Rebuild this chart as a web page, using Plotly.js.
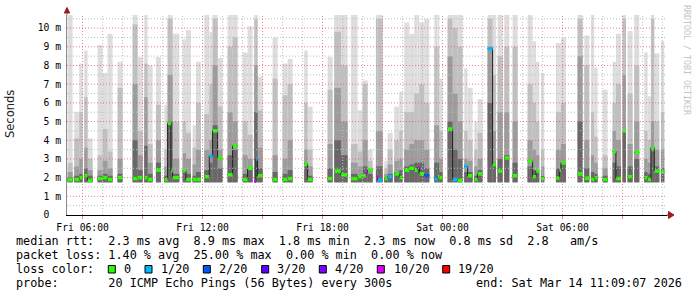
<!DOCTYPE html>
<html><head><meta charset="utf-8">
<script src="https://cdn.plot.ly/plotly-3.0.1.min.js"></script>
<style>html,body{margin:0;padding:0;background:#fff}#chart{width:697px;height:297px}</style>
</head><body><div id="chart"></div><script>
// ---- data ----
const colStart = [
 'Fri 05:15','Fri 05:35','Fri 05:50','Fri 06:05','Fri 06:15','Fri 06:45','Fri 07:00','Fri 07:15','Fri 07:45','Fri 08:30',
 'Fri 08:45','Fri 09:05','Fri 09:15','Fri 09:40','Fri 10:05','Fri 10:15','Fri 10:25','Fri 10:30','Fri 11:00','Fri 11:10',
 'Fri 11:30','Fri 11:40','Fri 12:05','Fri 12:20','Fri 12:30','Fri 12:45','Fri 13:15','Fri 13:30','Fri 14:00','Fri 14:15',
 'Fri 14:35','Fri 14:40','Fri 14:45','Fri 15:30','Fri 16:00','Fri 16:15','Fri 17:05','Fri 17:15','Fri 18:15','Fri 18:35',
 'Fri 18:55','Fri 19:25','Fri 19:45','Fri 20:00','Fri 20:10','Fri 20:15','Fri 20:40','Fri 20:45','Fri 21:05','Fri 21:15',
 'Fri 21:35','Fri 21:50','Fri 22:05','Fri 22:20','Fri 22:35','Fri 22:45','Fri 22:50','Fri 23:05','Fri 23:35','Fri 23:45',
 'Fri 23:50','Sat 00:15','Sat 00:30','Sat 00:45','Sat 01:05','Sat 01:15','Sat 01:35','Sat 01:45','Sat 02:15','Sat 02:30',
 'Sat 02:45','Sat 03:05','Sat 03:30','Sat 04:15','Sat 04:30','Sat 04:40','Sat 04:55','Sat 05:40','Sat 05:50','Sat 05:55',
 'Sat 06:45','Sat 07:05','Sat 07:25','Sat 07:35','Sat 08:00','Sat 08:30','Sat 08:40','Sat 09:00','Sat 09:15','Sat 09:35',
 'Sat 10:05','Sat 10:15','Sat 10:25','Sat 10:35','Sat 10:55'];
const colSamples = [
 3,3,2,2,3,3,3,3,3,3,
 3,2,3,3,2,2,1,4,2,3,
 2,3,3,2,3,3,3,3,3,3,
 1,1,3,3,3,3,2,3,3,4,
 4,4,3,2,1,3,1,3,2,3,
 3,2,3,3,2,1,3,3,2,1,
 2,3,3,3,2,3,2,3,3,2,
 3,3,3,3,2,2,2,2,1,3,
 3,3,2,2,3,2,3,2,3,3,
 2,2,2,3,2];
const rttMax = [
 11,5.5,8.1,8.8,4.1,9.1,7.6,9.7,8.2,11,
 8.45,11,8.0,8.45,5.9,11,11,9.7,9.4,9.9,
 4.8,8.2,11,9.8,11,8.4,11,11,8.7,10.1,
 11,11,7.4,9.5,8.1,8.35,8.8,5.8,8.45,11,
 11,11,5.6,7.2,7.2,3.5,11,11,2.9,4.4,
 5.8,6.6,10.3,9.7,11,11,10.3,10.5,11,11,
 7.3,11,11,11,7.85,6.8,5.0,6.2,11,11,
 11,11,11,11,9.3,8.2,7.6,9.2,9.2,9.5,
 11,9.6,11,7.9,6.7,8.2,9.7,11,9.85,11,
 8.7,6.35,11,8.65,9.3];
const rttUpper = [
 2.8,4.1,5.5,6.3,3.0,3.2,4.6,3.4,6.8,10.2,
 4.5,8.1,3.8,5.9,3.5,10.5,10.5,5.0,5.0,4.4,
 3.6,6.0,5.4,7.0,10.5,5.8,9.0,9.5,5.0,4.3,
 10.5,10.5,5.6,7.3,6.4,7.0,6.0,3.5,6.7,9.8,
 8.0,3.8,3.4,7.0,7.0,2.9,10.5,10.5,2.5,3.5,
 4.0,4.5,5.5,5.5,6.5,6.5,7.0,6.0,9.0,9.0,
 4.5,10.5,10.0,9.0,4.5,4.0,3.5,4.4,10.5,7.5,
 8.5,9.0,9.0,7.0,6.0,5.0,3.5,5.5,5.5,6.0,
 10.5,8.0,5.5,4.2,3.2,6.0,7.0,10.5,6.5,8.0,
 4.5,4.0,10.5,5.0,5.5];
const rttMid = [
 2.3,2.6,3.0,3.6,2.4,2.4,2.9,2.5,3.0,7.0,
 3.2,6.3,2.8,4.0,2.6,7.5,7.5,3.0,3.3,3.0,
 2.7,3.5,3.5,4.0,8.0,3.5,5.5,5.0,3.2,3.0,
 8.0,8.0,3.6,3.2,3.0,4.0,3.5,2.6,3.8,6.8,
 5.0,2.8,2.6,4.0,4.0,2.5,4.5,4.5,2.2,2.7,
 2.9,3.0,3.5,3.8,4.0,4.0,4.0,3.5,4.8,4.8,
 3.0,8.5,6.5,5.0,3.0,2.9,2.6,3.0,9.0,4.5,
 5.5,5.5,5.0,4.0,3.5,3.2,2.6,3.5,3.5,3.8,
 8.5,4.0,3.2,2.8,2.5,4.5,4.0,7.5,3.8,5.0,
 3.0,2.8,5.0,3.5,3.5];
const rttLower = [
 2.0,2.1,2.2,2.5,2.1,2.1,2.2,2.1,2.2,4.0,
 2.4,3.7,2.2,2.8,2.1,5.0,5.0,2.2,2.4,2.2,
 2.1,2.3,2.4,2.8,4.8,2.5,3.2,3.5,2.2,2.4,
 5.5,5.5,2.5,2.3,2.2,2.4,2.6,2.1,2.5,4.0,
 3.2,2.2,2.1,2.6,2.6,2.2,2.6,2.6,2.0,2.2,
 2.3,2.4,2.6,2.7,2.8,2.8,2.8,2.5,2.8,2.8,
 2.3,5.0,3.5,3.0,2.3,2.3,2.1,2.4,6.0,2.8,
 3.0,3.2,2.8,2.6,2.4,2.3,2.1,2.5,2.5,2.7,
 5.0,2.5,2.3,2.2,2.1,2.8,2.6,4.5,2.6,3.0,
 2.3,2.2,3.4,2.6,2.5];
const rttMedian = [
 1.88,1.9,2.0,2.1,1.85,1.95,2.0,1.9,2.0,1.95,
 2.0,2.0,1.9,2.4,1.9,4.9,2.35,2.0,2.37,1.9,
 1.9,1.9,2.05,3.15,4.5,3.05,2.15,3.7,1.9,2.5,
 1.8,3.0,2.1,1.9,1.9,1.95,2.75,1.9,1.95,2.35,
 2.15,1.95,2.05,2.1,2.25,2.4,2.05,1.87,1.95,2.05,
 2.2,2.0,2.4,2.5,2.4,2.55,2.2,2.1,1.93,2.05,
 2.0,4.6,1.9,1.85,2.6,2.1,1.9,2.2,8.9,2.7,
 2.35,3.05,2.1,2.9,2.05,2.35,1.95,1.97,2.4,2.8,
 2.2,1.97,1.9,2.0,1.9,3.4,1.95,4.5,2.05,3.35,
 2.0,1.9,3.6,2.35,2.3];
const lossIndex = [
 0,0,0,0,0,0,0,0,0,0,
 0,0,0,0,0,0,0,0,0,0,
 0,0,0,1,0,0,0,0,0,0,
 5,1,0,0,0,0,0,0,0,0,
 0,0,0,0,5,0,5,1,0,1,
 0,0,0,0,0,5,0,2,1,0,
 0,0,1,0,1,0,0,0,1,0,
 0,0,0,0,0,0,0,0,0,0,
 0,0,0,0,0,0,0,0,0,0,
 0,0,0,0,0];
const rttFloor = 1.75;
const lossLabels = ['0','1/20','2/20','3/20','4/20','10/20','19/20'];
const lossColors = ['#26ff00','#00b8ff','#0059ff','#5e00ff','#7e00ff','#dd00ff','#ff0000'];
const xTickVals = ['2026-03-13 06:00','2026-03-13 09:00','2026-03-13 12:00','2026-03-13 15:00','2026-03-13 18:00',
 '2026-03-13 21:00','2026-03-14 00:00','2026-03-14 03:00','2026-03-14 06:00','2026-03-14 09:00'];
const xTickText = ['Fri 06:00','','Fri 12:00','','Fri 18:00','','Sat 00:00','','Sat 06:00',''];
const yTickVals = [0,1,2,3,4,5,6,7,8,9,10];
const yTickText = ['0\u00a0\u00a0','1 m','2 m','3 m','4 m','5 m','6 m','7 m','8 m','9 m','10 m'];
const statLine1 = 'median rtt:  2.3 ms avg  8.9 ms max  1.8 ms min  2.3 ms now  0.8 ms sd  2.8   am/s';
const statLine2 = 'packet loss: 1.40 % avg  25.00 % max  0.00 % min  0.00 % now';
const statLine3 = 'loss color:';
const statLine4 = 'probe:       20 ICMP Echo Pings (56 Bytes) every 300s';
const endText = 'end: Sat Mar 14 11:09:07 2026';
const yTitle = 'Seconds';
const watermark = 'RRDTOOL / TOBI OETIKER';

// ---- build ----
const dayDate = {Fri:[2026,2,13], Sat:[2026,2,14]};
const STEP = 300000, HOUR = 3600000;
function toMs(s){const p=s.split(' ');const d=dayDate[p[0]];const hm=p[1].split(':').map(Number);return Date.UTC(d[0],d[1],d[2],hm[0],hm[1]);}
const startMs = colStart.map(toMs);
const widthMs = colSamples.map(n=>n*STEP);
const centerMs = startMs.map((s,i)=>s+widthMs[i]/2);
const endMs = startMs.map((s,i)=>s+widthMs[i]);

function band(tops,color){
  return {type:'bar', x:centerMs, width:widthMs, base:tops.map(()=>rttFloor), y:tops.map(t=>t-rttFloor),
    marker:{color:color, line:{width:0}}, hoverinfo:'skip'};
}
const traces = [band(rttMax,'#dddddd'), band(rttUpper,'#c0c0c0'), band(rttMid,'#9c9c9c'), band(rttLower,'#686868')];

const mx=[], my=[];
for(let i=0;i<startMs.length;i++){
  mx.push(startMs[i], endMs[i]); my.push(rttMedian[i], rttMedian[i]);
  if(!(i+1<startMs.length && startMs[i+1]===endMs[i])){mx.push(null); my.push(null);}
}
traces.push({type:'scatter', mode:'lines', x:mx, y:my, line:{color:'#202020', width:1}, hoverinfo:'skip', connectgaps:false});

lossColors.forEach((c,k)=>{
  const x=[], y=[];
  for(let i=0;i<startMs.length;i++){ if(lossIndex[i]===k){ x.push(startMs[i]+STEP*0.15, endMs[i], null); y.push(rttMedian[i], rttMedian[i], null);} }
  if(x.length) traces.push({type:'scatter', mode:'lines', x:x, y:y, line:{color:c, width:3.5}, hoverinfo:'skip'});
});

const L=67, T=15, W=600, H=200;
const px = v => (v-L)/W;
const py = v => (T+H-v)/H;
const nb = s => s.replace(/ /g,'\u00a0');
const mono = 'DejaVu Sans Mono';
const txtFont = {family:mono, size:11.8, color:'#000'};
const ann = [];
function addText(text,x,y,anchor){ann.push({xref:'paper',yref:'paper',x:px(x),y:py(y),xanchor:anchor||'left',yanchor:'middle',text:nb(text),showarrow:false,font:txtFont,borderpad:0});}
addText(statLine1,15,241);
addText(statLine2,15,255);
addText(statLine3,15,269);
addText(statLine4,15,283);
addText(endText,683,283,'right');
const boxX=[108.3,145,203.3,261.7,319.3,377.3,442.7];
const labX=[123,160,218,276,334,392.5,456.5];
const shapes=[];
lossLabels.forEach((lab,k)=>{
  addText(lab,labX[k],269);
  shapes.push({type:'rect',xref:'paper',yref:'paper',x0:px(boxX[k]),x1:px(boxX[k]+7),y0:py(273),y1:py(265.5),fillcolor:lossColors[k],line:{color:'#000',width:1}});
});
ann.push({xref:'paper',yref:'paper',x:px(10),y:py(114),text:yTitle,textangle:-90,showarrow:false,font:{family:'DejaVu Sans',size:11.5,color:'#222'},xanchor:'center',yanchor:'middle'});
ann.push({xref:'paper',yref:'paper',x:px(687),y:py(60),text:nb(watermark),textangle:90,showarrow:false,font:{family:mono,size:8.3,color:'#c4c4c4'},xanchor:'center',yanchor:'middle'});

// grid drawn over the smoke, as rrdtool does
const xMin = toMs('Fri 05:13'), xMax = xMin + 30*HOUR;
const majorColor = 'rgba(225,90,90,0.75)', minorColor = '#bdbdbd';
for(let t=toMs('Fri 06:00'); t<xMax; t+=HOUR){
  const major = ((t - toMs('Fri 06:00'))/HOUR) % 3 === 0;
  shapes.push({type:'line', layer:'above', xref:'x', yref:'paper', x0:t, x1:t, y0:0, y1:1, line:{color:major?majorColor:minorColor, width:1, dash:'1px,2px'}});
}
for(let v=0.5; v<10.7; v+=0.5){
  const major = Math.abs(v-Math.round(v))<1e-9;
  shapes.push({type:'line', layer:'above', xref:'paper', yref:'y', x0:0, x1:1, y0:v, y1:v, line:{color:major?majorColor:minorColor, width:1, dash:'1px,2px'}});
}

// axis extensions and arrows
shapes.push({type:'line',xref:'paper',yref:'paper',x0:0,x1:0,y0:1,y1:py(9),line:{color:'#8a8a8a',width:1}});
shapes.push({type:'line',xref:'paper',yref:'paper',x0:1,x1:px(671),y0:0,y1:0,line:{color:'#000',width:1}});
shapes.push({type:'path',xref:'paper',yref:'paper',path:`M ${px(64.3)} ${py(13)} L ${px(67)} ${py(7.5)} L ${px(69.7)} ${py(13)} Z`,fillcolor:'#a01c1c',line:{color:'#a01c1c',width:1}});
shapes.push({type:'path',xref:'paper',yref:'paper',path:`M ${px(668.5)} ${py(211.5)} L ${px(674)} ${py(215)} L ${px(668.5)} ${py(218.5)} Z`,fillcolor:'#a01c1c',line:{color:'#a01c1c',width:1}});

const tickFont = {family:mono, size:9.7, color:'#000'};
const layout = {
  width:697, height:297, margin:{l:L, r:697-L-W, t:T, b:297-T-H, pad:0},
  paper_bgcolor:'#fff', plot_bgcolor:'#fff', showlegend:false, barmode:'overlay', hovermode:false,
  xaxis:{type:'date', range:['2026-03-13 05:13:12','2026-03-14 11:13:12'], tickmode:'array', tickvals:xTickVals, ticktext:xTickText,
    showgrid:false, showline:true, linecolor:'#000', linewidth:1, ticks:'outside', ticklen:3, tickcolor:'rgba(225,90,90,0.75)',
    tickfont:tickFont, zeroline:false, fixedrange:true, layer:'above traces'},
  yaxis:{range:[0,10.7], tickmode:'array', tickvals:yTickVals, ticktext:yTickText,
    showgrid:false, showline:true, linecolor:'#8a8a8a', linewidth:1, ticks:'outside', ticklen:3, tickcolor:'rgba(0,0,0,0)',
    tickfont:tickFont, zeroline:false, fixedrange:true, layer:'above traces'},
  annotations:ann, shapes:shapes
};
Plotly.newPlot('chart', traces, layout, {staticPlot:true, displayModeBar:false});
</script></body></html>
